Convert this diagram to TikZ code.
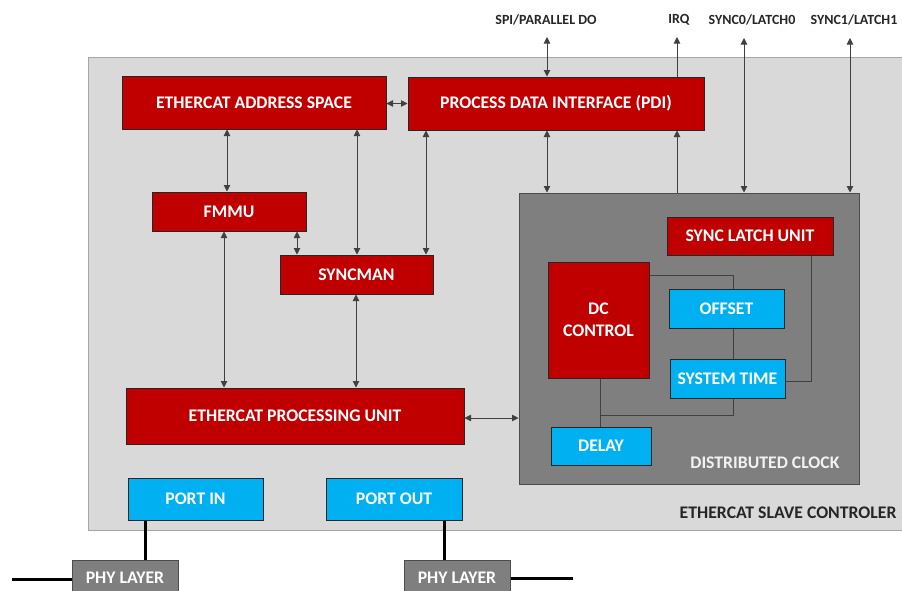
\documentclass[tikz,border=0pt]{standalone}
\usepackage{fontspec}
\setmainfont{Carlito}
\usetikzlibrary{arrows.meta}
\definecolor{boxred}{HTML}{C00000}
\definecolor{boxblue}{HTML}{00B0F0}
\definecolor{dcgrey}{HTML}{7F7F7F}
\definecolor{bggrey}{HTML}{D9D9D9}
\definecolor{bgedge}{HTML}{A6A6A6}
\definecolor{wirec}{HTML}{404040}
\definecolor{txtdark}{HTML}{262626}
\begin{document}
\begin{tikzpicture}[x=1pt,y=-1pt,
  lbl/.style={font=\bfseries\fontsize{17.7}{21}\selectfont},
  redbox/.style={draw=black!85, line width=1pt, fill=boxred, text=white, inner sep=0pt, lbl},
  bluebox/.style={draw=black!85, line width=1pt, fill=boxblue, text=white, inner sep=0pt, lbl},
  greybox/.style={draw=black!70, line width=1pt, fill=dcgrey, inner sep=0pt},
  toplbl/.style={font=\bfseries\fontsize{14}{16}\selectfont, text=txtdark},
  dbl/.style={draw=wirec, line width=0.9pt, {Triangle[width=6.5pt,length=6.5pt]}-{Triangle[width=6.5pt,length=6.5pt]}},
  sgl/.style={draw=wirec, line width=0.9pt, -{Triangle[width=6.5pt,length=6.5pt]}},
  wire/.style={draw=wirec, line width=1pt},
  portwire/.style={draw=black, line width=3pt}
]
\useasboundingbox (0,0) rectangle (902,590);
% outer controller box
\node[draw=bgedge, line width=1pt, fill=bggrey, minimum width=822pt, minimum height=473pt, inner sep=0pt] (esc) at (499,293.5) {};
\node[lbl, text=txtdark, anchor=east] (esclbl) at (900,513) {ETHERCAT SLAVE CONTROLER};
% distributed clock region
\node[greybox, minimum width=340pt, minimum height=291pt] (dc) at (689,338.5) {};
\node[lbl, text=white!95!black, anchor=east] (dclbl) at (843,463) {DISTRIBUTED CLOCK};
% red blocks
\node[redbox, minimum width=264pt, minimum height=53pt] (eas) at (254,102.5) {ETHERCAT ADDRESS SPACE};
\node[redbox, minimum width=296pt, minimum height=53pt] (pdi) at (556,103.5) {PROCESS DATA INTERFACE (PDI)};
\node[redbox, minimum width=154pt, minimum height=39pt] (fmmu) at (229,211.5) {FMMU};
\node[redbox, minimum width=153pt, minimum height=39pt] (sync) at (356.5,274.5) {SYNCMAN};
\node[redbox, minimum width=338pt, minimum height=56pt] (epu) at (295,416) {ETHERCAT PROCESSING UNIT};
\node[redbox, minimum width=166pt, minimum height=38pt] (slu) at (750,236) {SYNC LATCH UNIT};
\node[redbox, minimum width=101pt, minimum height=116pt, align=center] (dcc) at (598.5,320) {DC\\[1pt]CONTROL};
% blue blocks
\node[bluebox, minimum width=115pt, minimum height=39pt] (off) at (726.5,308.5) {OFFSET};
\node[bluebox, minimum width=115pt, minimum height=39pt] (sys) at (727.5,378.5) {SYSTEM TIME};
\node[bluebox, minimum width=100pt, minimum height=38pt] (delay) at (601,446) {DELAY};
\node[bluebox, minimum width=135pt, minimum height=42pt] (pin) at (195.5,499) {PORT IN};
\node[bluebox, minimum width=136pt, minimum height=42pt] (pout) at (394,499) {PORT OUT};
% PHY layers
\node[greybox, minimum width=106pt, minimum height=36pt, text=white, lbl] (phy1) at (125,578) {PHY LAYER};
\node[greybox, minimum width=106pt, minimum height=36pt, text=white, lbl] (phy2) at (457,578) {PHY LAYER};
% top labels
\node[toplbl] (lspi) at (546,20) {SPI/PARALLEL DO};
\node[toplbl] (lirq) at (679,20) {IRQ};
\node[toplbl] (ls0) at (752,20) {SYNC0/LATCH0};
\node[toplbl] (ls1) at (854,20) {SYNC1/LATCH1};
% helper coordinates
\coordinate (t547) at (547,37);
\coordinate (t677) at (677,37);
\coordinate (t744) at (744,38);
\coordinate (t850) at (850,38);
\coordinate (c227) at (227,0);
\coordinate (c357) at (357,0);
\coordinate (c426) at (426,0);
\coordinate (c297) at (297,0);
\coordinate (c224) at (224,0);
\coordinate (c356) at (356,0);
\coordinate (c418) at (0,418);
\coordinate (c733) at (733,0);
\coordinate (c811) at (811,0);
\coordinate (c600) at (600,0);
\coordinate (c275) at (0,275);
\coordinate (c381) at (0,381);
\coordinate (j415) at (600,415);
\coordinate (c145) at (145,0);
\coordinate (c444) at (444,0);
\coordinate (lend) at (12,579);
\coordinate (rend) at (573,578);
% top connectors
\draw[dbl] (t547) -- (pdi.north -| t547);
\draw[sgl] (pdi.north -| t677) -- (t677);
\draw[sgl] (dc.north -| t677) -- (pdi.south -| t677);
\draw[dbl] (pdi.south -| t547) -- (dc.north -| t547);
\draw[dbl] (t744) -- (dc.north -| t744);
\draw[dbl] (t850) -- (dc.north -| t850);
% internal connectors
\draw[dbl] (eas.east |- pdi.west) -- (pdi.west);
\draw[dbl] (eas.south -| c227) -- (fmmu.north -| c227);
\draw[dbl] (eas.south -| c357) -- (sync.north -| c357);
\draw[dbl] (pdi.south -| c426) -- (sync.north -| c426);
\draw[dbl] (fmmu.south -| c297) -- (sync.north -| c297);
\draw[dbl] (fmmu.south -| c224) -- (epu.north -| c224);
\draw[dbl] (sync.south -| c356) -- (epu.north -| c356);
\draw[dbl] (epu.east |- c418) -- (dc.west |- c418);
% DC wiring
\draw[wire] (dcc.east |- c275) -| (off.north -| c733);
\draw[wire] (off.south -| c733) -- (sys.north -| c733);
\draw[wire] (slu.south -| c811) |- (sys.east |- c381);
\draw[wire] (dcc.south -| c600) -- (delay.north -| c600);
\draw[wire] (j415) -| (sys.south -| c733);
% ports
\draw[portwire] (pin.south -| c145) -- (phy1.north -| c145);
\draw[portwire] (pout.south -| c444) -- (phy2.north -| c444);
\draw[portwire] (phy1.west |- lend) -- (lend);
\draw[portwire] (phy2.east |- rend) -- (rend);
\end{tikzpicture}
\end{document}
